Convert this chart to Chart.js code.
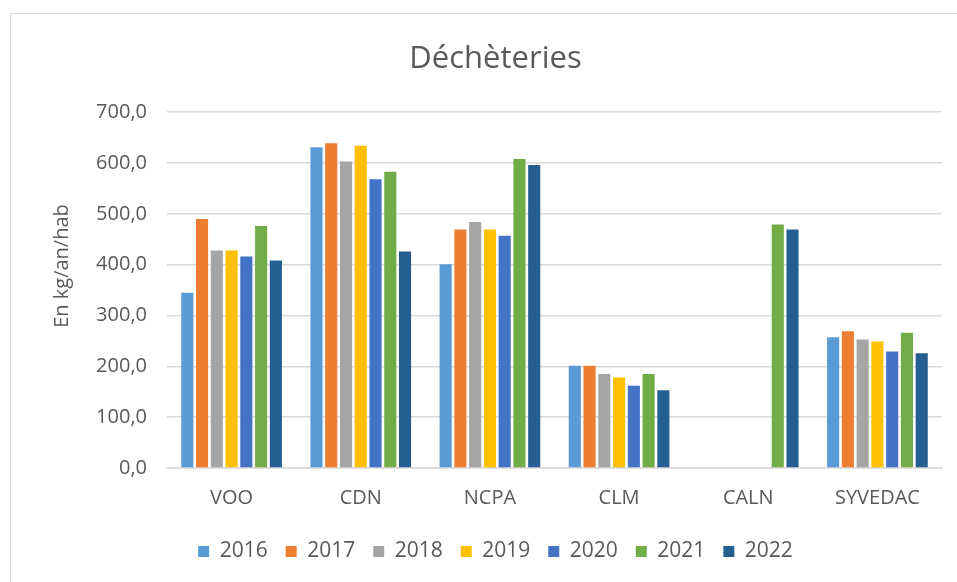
<!DOCTYPE html>
<html>
<head>
<meta charset="utf-8">
<script src="https://cdn.jsdelivr.net/npm/chart.js@4"></script>
<style>
  body { margin: 0; background: #fff; overflow: hidden; }
  #wrap { position: relative; width: 957px; height: 582px; }
  #frame { position: absolute; left: 10px; top: 13px; width: 980px; height: 600px; border: 1px solid #d9d9d9; box-sizing: border-box; }
  canvas { position: absolute; left: 0; top: 0; }
</style>
</head>
<body>
<div id="wrap">
  <div id="frame"></div>
  <canvas id="chart" width="957" height="582"></canvas>
</div>
<script>
// Categories and yearly values (kg/an/hab)
const categories = ['VOO', 'CDN', 'NCPA', 'CLM', 'CALN', 'SYVEDAC'];
const years = ['2016', '2017', '2018', '2019', '2020', '2021', '2022'];
const v2016 = [345, 631, 401, 201, null, 257];
const v2017 = [490, 639, 469, 201, null, 269];
const v2018 = [428, 603, 484, 185, null, 253];
const v2019 = [428, 634, 469, 178, null, 249];
const v2020 = [416, 568, 457, 162, null, 229];
const v2021 = [476, 583, 608, 185, 479, 266];
const v2022 = [408, 426, 596, 153, 469, 226];
const yTicks = [0, 100, 200, 300, 400, 500, 600, 700];
const yTitle = 'En kg/an/hab';

const colors = ['#5B9BD5', '#ED7D31', '#A5A5A5', '#FFC000', '#4472C4', '#70AD47', '#255E91'];
const series = [v2016, v2017, v2018, v2019, v2020, v2021, v2022];

const textColor = '#595959';
const fontFamily = "'Open Sans', sans-serif";

// Draws the vertical axis title a bit above the plot centre, like the original
const yTitlePlugin = {
    id: 'yTitle',
    afterDraw(chart) {
        const c = chart.ctx;
        c.save();
        c.translate(62, 266);
        c.rotate(-Math.PI / 2);
        c.fillStyle = textColor;
        c.font = `20px ${fontFamily}`;
        c.textAlign = 'center';
        c.textBaseline = 'middle';
        c.fillText(yTitle, 0, 0);
        c.restore();
    }
};

const ctx = document.getElementById('chart').getContext('2d');
new Chart(ctx, {
    type: 'bar',
    data: {
        labels: categories,
        datasets: years.map((y, i) => ({
            label: y,
            data: series[i],
            backgroundColor: colors[i],
            barPercentage: 0.82,
            categoryPercentage: 0.8
        }))
    },
    options: {
        responsive: false,
        animation: false,
        layout: { padding: { left: 49, right: 15, top: 0, bottom: 10 } },
        plugins: {
            title: {
                display: true,
                text: 'Déchèteries',
                color: textColor,
                font: { family: fontFamily, size: 31, weight: 'normal' },
                padding: { top: 41, bottom: 34 }
            },
            legend: {
                position: 'bottom',
                labels: {
                    color: textColor,
                    font: { family: fontFamily, size: 21 },
                    boxWidth: 11,
                    boxHeight: 11,
                    padding: 18
                }
            },
            tooltip: { enabled: false }
        },
        scales: {
            x: {
                afterFit: (scale) => { scale.height -= 5; },
                grid: { display: false, drawTicks: false },
                border: { display: true, color: '#d9d9d9', width: 1.5 },
                ticks: {
                    color: textColor,
                    font: { family: fontFamily, size: 20 },
                    padding: 18
                }
            },
            y: {
                min: 0,
                max: 700,
                afterFit: (scale) => { scale.width = 118; },
                afterBuildTicks: (scale) => { scale.ticks = yTicks.map(v => ({ value: v })); },
                grid: { color: '#d9d9d9', lineWidth: 1.5, drawTicks: false },
                border: { display: false },
                ticks: {
                    color: textColor,
                    font: { family: fontFamily, size: 20 },
                    padding: 20,
                    callback: (v) => v.toFixed(1).replace('.', ',')
                }
            }
        }
    },
    plugins: [yTitlePlugin]
});
</script>
</body>
</html>
